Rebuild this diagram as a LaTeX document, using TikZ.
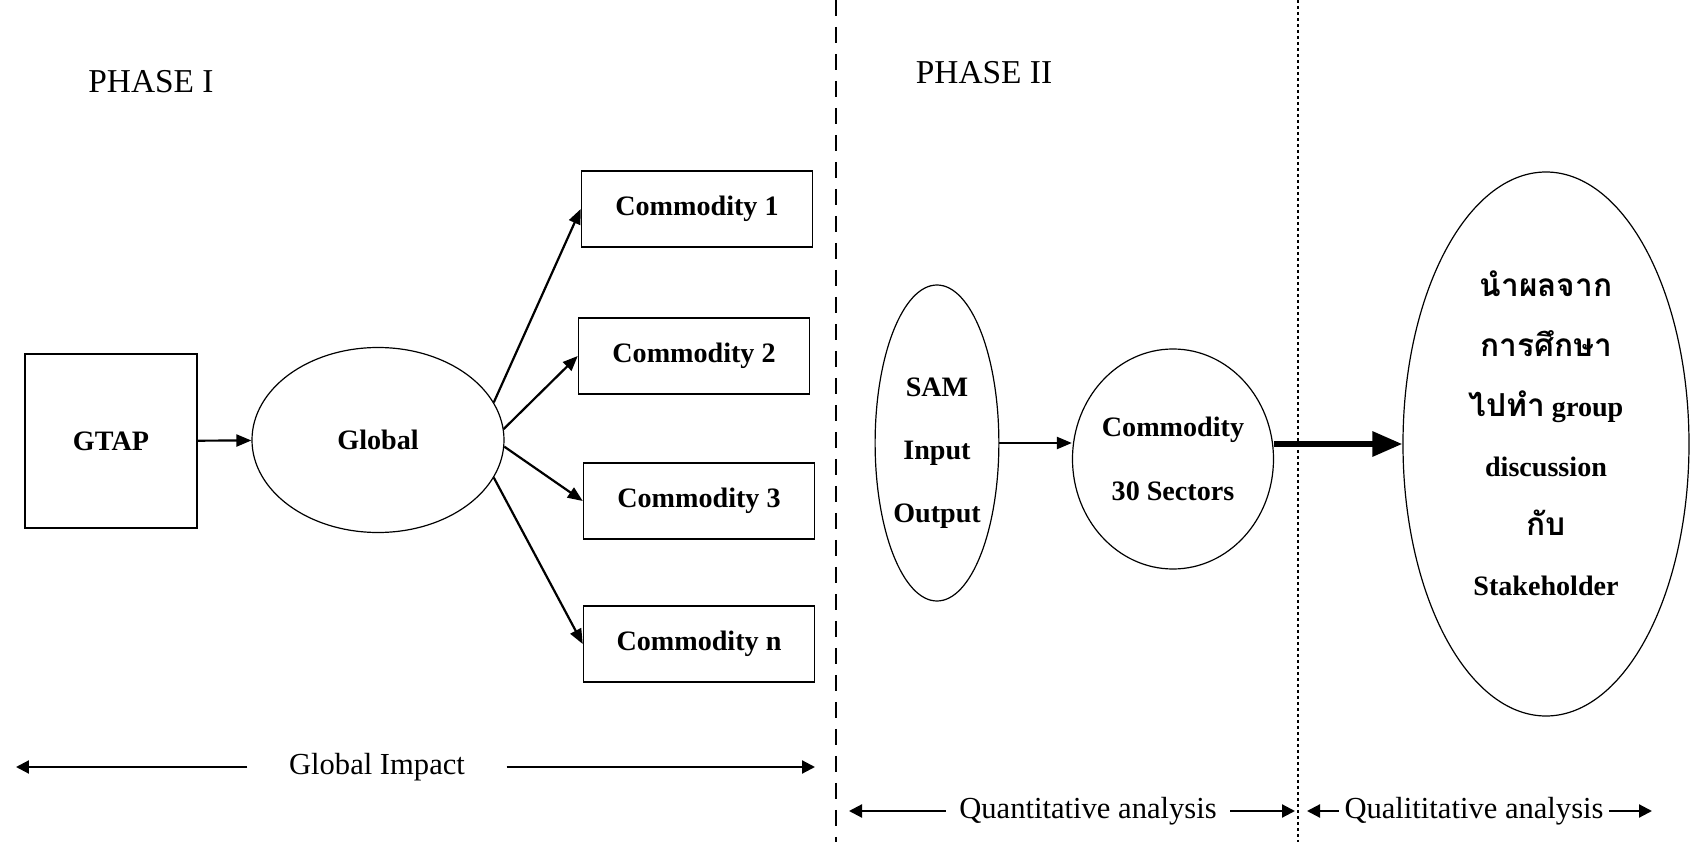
\documentclass[tikz,border=0pt]{standalone}
\usepackage{fontspec}
\setmainfont{Liberation Serif}
\newfontfamily\thaifont[Script=Thai]{Loma}
\usetikzlibrary{shapes.geometric,arrows.meta,positioning}

\begin{document}
\begin{tikzpicture}[x=0.1mm,y=-0.1mm,
  box/.style={draw,line width=0.15mm,inner sep=0pt,font=\fontsize{8}{10}\selectfont\bfseries},
  oval/.style={draw,ellipse,line width=0.12mm,inner sep=0pt,align=center,font=\fontsize{8}{18}\selectfont\bfseries},
  link/.style={line width=0.22mm,-{Triangle[length=1.5mm,width=1.2mm]}},
  span/.style={line width=0.22mm,-{Triangle[length=1.3mm,width=1.3mm]}},
  tag/.style={inner sep=0pt,font=\fontsize{8.7}{10}\selectfont},
  phase/.style={inner sep=0pt,font=\fontsize{9.5}{11}\selectfont}
]
\useasboundingbox (0,0) rectangle (1706,842);
% Phase headings
\node[phase] (ph1) at (151,82) {PHASE I};
\node[phase] (ph2) at (984,73) {PHASE II};
% Dividers
\draw[line width=0.2mm,dash pattern=on 1.6mm off 1.1mm] (836,0) -- (836,842);
\draw[line width=0.2mm,dash pattern=on 0.3mm off 0.3mm] (1298,0) -- (1298,842);
% Phase I
\node[box,minimum width=17.2mm,minimum height=17.4mm] (gtap) at (111,441) {GTAP};
\node[oval,minimum width=25.2mm,minimum height=18.5mm] (glob) at (378,440) {Global};
\draw[link] (gtap) -- (glob);
\foreach \i/\txt/\cx/\cy/\ang in {1/1/697/209/18, 2/2/694/356/5, 3/3/699/501/-3, 4/n/699/644/-18} {
  \node[box,minimum width=23.1mm,minimum height=7.6mm] (com\i) at (\cx,\cy) {Commodity \txt};
  \draw[link] (glob.\ang) -- (com\i.west);
}
% Phase II
\node[oval,minimum width=12.2mm,minimum height=31.6mm] (sam) at (937,443) {\rule{0pt}{11pt}SAM\\Input\\Output};
\node[oval,minimum width=19.6mm,minimum height=22mm] (sect) at (1173,459) {Commodity\\30 Sectors};
\node[oval,minimum width=28.6mm,minimum height=54.4mm,font=\fontsize{8}{17}\selectfont\bfseries] (stake) at (1546,444)
  {{\thaifont\fontsize{9}{17}\selectfont นำผลจาก}\\{\thaifont\fontsize{9}{17}\selectfont การศึกษา}\\{\thaifont\fontsize{9}{17}\selectfont ไปทำ} group\\discussion\\{\thaifont\fontsize{9}{17}\selectfont กับ}\\Stakeholder\rule[-6pt]{0pt}{0pt}};
\draw[link] (sam.east) -- (sam.east -| sect.west);
\draw[line width=0.6mm,-{Triangle[length=3mm,width=2.4mm]}] (stake.west -| sect.east) -- (stake.west);
% Bottom spans
\node[tag,inner xsep=4.1mm] (gi) at (377,767) {Global Impact};
\coordinate (giL) at (16,767);
\coordinate (giR) at (815,767);
\draw[span] (gi.west) -- (giL);
\draw[span] (gi.east) -- (giR);
\node[tag,inner xsep=1.3mm] (qn) at (1088,811) {Quantitative analysis};
\coordinate (qnL) at (849,811);
\coordinate (qnR) at (1295,811);
\draw[span] (qn.west) -- (qnL);
\draw[span] (qn.east) -- (qnR);
\node[tag,inner xsep=0.5mm] (ql) at (1474,811) {Qualititative analysis};
\coordinate (qlL) at (1307,811);
\coordinate (qlR) at (1652,811);
\draw[span] (ql.west) -- (qlL);
\draw[span] (ql.east) -- (qlR);
\end{tikzpicture}
\end{document}
